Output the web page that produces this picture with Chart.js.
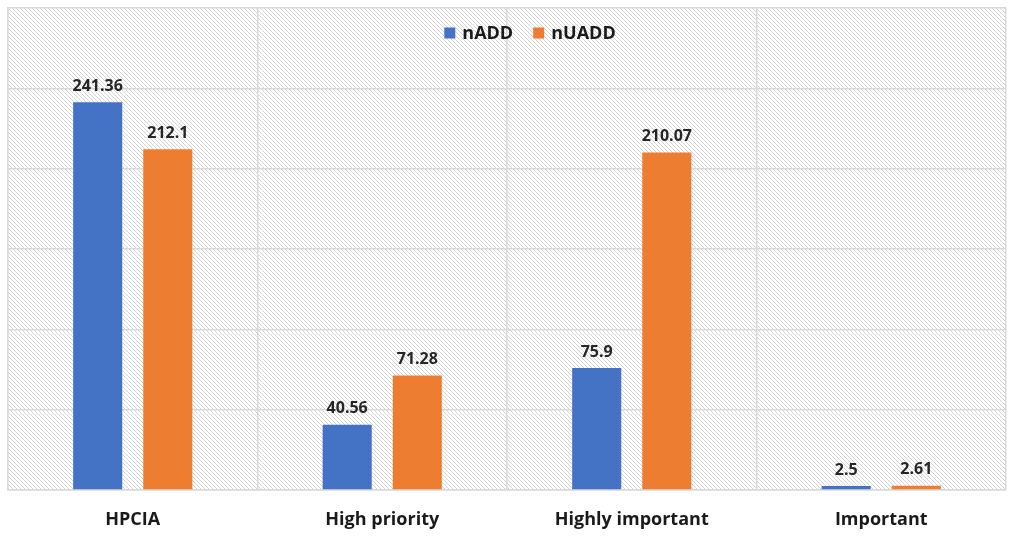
<!DOCTYPE html>
<html>
<head>
<meta charset="utf-8">
<script src="https://cdn.jsdelivr.net/npm/chart.js@4"></script>
<style>
  html, body { margin: 0; padding: 0; background: #fff; }
  #wrap { width: 1013px; height: 537px; }
</style>
</head>
<body>
<div id="wrap"><canvas id="chart"></canvas></div>
<script>
const categories = ['HPCIA', 'High priority', 'Highly important', 'Important'];
const nADD = [241.36, 40.56, 75.9, 2.5];
const nUADD = [212.1, 71.28, 210.07, 2.61];
const seriesNames = ['nADD', 'nUADD'];
const seriesColors = ['#4472C4', '#ED7D31'];

// diagonal hatch for the plot background
function makeHatch(ctx) {
    const c = document.createElement('canvas');
    c.width = 4; c.height = 4;
    const g = c.getContext('2d');
    g.fillStyle = '#ffffff';
    g.fillRect(0, 0, 4, 4);
    g.fillStyle = '#d3d3d3';
    for (let i = 0; i < 4; i++) g.fillRect(i, i, 1, 1);
    return ctx.createPattern(c, 'repeat');
}

const hatchPlugin = {
    id: 'hatch',
    beforeDraw(chart) {
        const { ctx, chartArea: a } = chart;
        ctx.save();
        ctx.fillStyle = makeHatch(ctx);
        ctx.fillRect(a.left, a.top, a.right - a.left, a.bottom - a.top);
        ctx.restore();
    }
};

const labelPlugin = {
    id: 'valueLabels',
    afterDatasetsDraw(chart) {
        const ctx = chart.ctx;
        ctx.save();
        ctx.font = 'bold 16px "Open Sans"';
        ctx.fillStyle = '#262626';
        ctx.textAlign = 'center';
        ctx.textBaseline = 'bottom';
        chart.data.datasets.forEach((ds, di) => {
            chart.getDatasetMeta(di).data.forEach((bar, i) => {
                ctx.fillText(String(ds.data[i]), bar.x, bar.y - 8);
            });
        });
        ctx.restore();
    }
};

// legend drawn inside the plot area, like the original
const legendPlugin = {
    id: 'innerLegend',
    afterDraw(chart) {
        const ctx = chart.ctx;
        ctx.save();
        ctx.font = 'bold 18px "Open Sans"';
        ctx.textBaseline = 'middle';
        const box = 11, gapBox = 7, gapItem = 20;
        const widths = seriesNames.map(n => box + gapBox + ctx.measureText(n).width);
        const total = widths.reduce((s, w) => s + w, 0) + gapItem;
        let x = 530 - total / 2;
        const y = 33;
        seriesNames.forEach((n, i) => {
            ctx.fillStyle = seriesColors[i];
            ctx.fillRect(x, y - box / 2, box, box);
            ctx.fillStyle = '#1a1a1a';
            ctx.fillText(n, x + box + gapBox, y + 1);
            x += widths[i] + gapItem;
        });
        ctx.restore();
    }
};

new Chart(document.getElementById('chart'), {
    type: 'bar',
    data: {
        labels: categories,
        datasets: [
            { label: seriesNames[0], data: nADD, backgroundColor: seriesColors[0] },
            { label: seriesNames[1], data: nUADD, backgroundColor: seriesColors[1] }
        ]
    },
    options: {
        responsive: true,
        maintainAspectRatio: false,
        animation: false,
        categoryPercentage: 0.562,
        barPercentage: 0.7,
        layout: { padding: { left: 8, right: 7, top: 8, bottom: 0 } },
        plugins: {
            legend: { display: false },
            tooltip: { enabled: false }
        },
        scales: {
            x: {
                afterFit(scale) { scale.height = 47; },
                grid: { color: '#d9d9d9', lineWidth: 1.5, drawTicks: false },
                border: { color: '#d9d9d9', width: 1.5 },
                ticks: {
                    color: '#1a1a1a',
                    maxRotation: 0,
                    font: { family: 'Open Sans', size: 18, weight: 'bold' },
                    padding: 19
                }
            },
            y: {
                min: 0,
                max: 300,
                ticks: { stepSize: 50, display: false },
                grid: { color: '#d9d9d9', lineWidth: 1.5, drawTicks: false },
                border: { color: '#d9d9d9', width: 1.5 }
            }
        }
    },
    plugins: [hatchPlugin, labelPlugin, legendPlugin]
});
</script>
</body>
</html>
